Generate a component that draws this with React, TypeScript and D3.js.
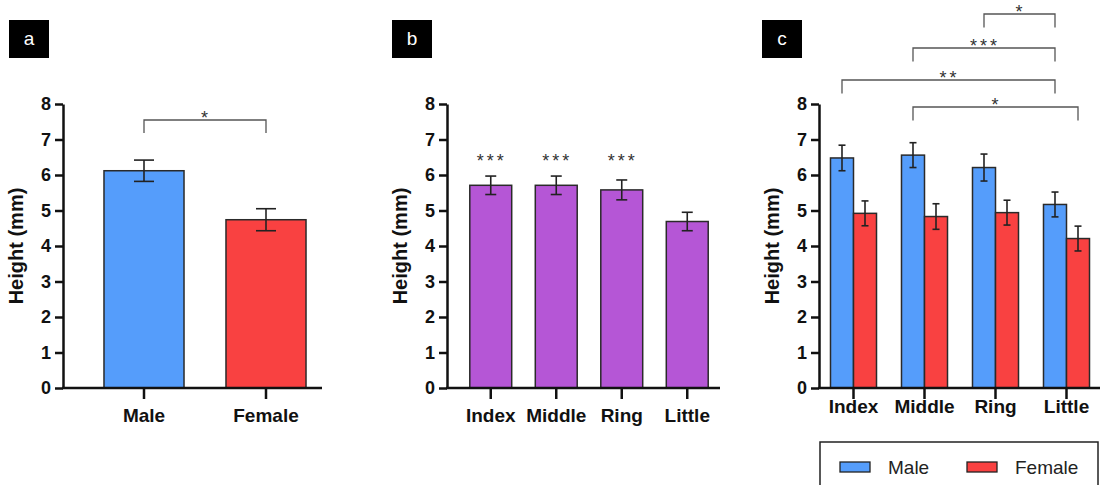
import React, { useRef, useEffect } from 'react';
import * as d3 from 'd3';

// panel a: sex
const sexCats = ['Male', 'Female'];
const sexMeans = [6.12, 4.74];
const sexErr = [0.3, 0.31];

// panel b: fingers
const fingerCats = ['Index', 'Middle', 'Ring', 'Little'];
const fingerMeans = [5.71, 5.71, 5.58, 4.69];
const fingerErr = [0.26, 0.26, 0.28, 0.26];
const fingerStars = ['***', '***', '***', ''];

// panel c: finger x sex
const groups = ['Male', 'Female'];
const maleMeans = [6.48, 6.56, 6.21, 5.17];
const maleErr = [0.36, 0.35, 0.38, 0.35];
const femaleMeans = [4.92, 4.83, 4.94, 4.21];
const femaleErr = [0.35, 0.36, 0.35, 0.35];
// brackets, bottom to top
const cBrackets = [
  { from: ['Middle', 'Male'], to: ['Little', 'Female'], label: '*' },
  { from: ['Index', 'Male'], to: ['Little', 'Male'], label: '**' },
  { from: ['Middle', 'Male'], to: ['Little', 'Male'], label: '***' },
  { from: ['Ring', 'Male'], to: ['Little', 'Male'], label: '*' },
];
const yTicks = [0, 1, 2, 3, 4, 5, 6, 7, 8];

const BLUE = '#559dfb';
const RED = '#f94141';
const PURPLE = '#b556d6';
const FONT = '"Liberation Sans", Arial, sans-serif';

export default function App() {
  const ref = useRef(null);

  useEffect(() => {
    const svg = d3.select(ref.current);
    svg.selectAll('*').remove();

    const y = d3.scaleLinear().domain([0, 8]).range([388, 104]);

    const drawYAxis = (x0, xEnd) => {
      const g = svg.append('g').attr('transform', `translate(${x0},0)`);
      g.call(d3.axisLeft(y).tickValues(yTicks).tickSize(8).tickSizeOuter(0).tickPadding(4));
      g.select('.domain').attr('stroke', '#111').attr('stroke-width', 2.5);
      g.selectAll('.tick line').attr('stroke', '#111').attr('stroke-width', 2.5);
      g.selectAll('.tick text')
        .attr('font-family', FONT).attr('font-size', 18).attr('font-weight', 'bold').attr('fill', '#111');
      svg.append('line')
        .attr('x1', x0 - 1).attr('x2', xEnd).attr('y1', y(0)).attr('y2', y(0))
        .attr('stroke', '#111').attr('stroke-width', 2.5);
      svg.append('text')
        .attr('transform', `translate(${x0 - 47},${(y(0) + y(8)) / 2}) rotate(-90)`)
        .attr('text-anchor', 'middle').attr('dy', '0.35em')
        .attr('font-family', FONT).attr('font-size', 20).attr('font-weight', 'bold').attr('fill', '#111')
        .text('Height (mm)');
    };

    const drawXTicks = (x, labelY) => {
      const g = svg.append('g').attr('transform', `translate(0,${y(0)})`);
      g.call(d3.axisBottom(x).tickSize(11).tickSizeOuter(0).tickPadding(0));
      g.select('.domain').remove();
      g.selectAll('.tick line').attr('stroke', '#111').attr('stroke-width', 2.5);
      g.selectAll('.tick text')
        .attr('y', labelY - y(0)).attr('dy', 0)
        .attr('font-family', FONT).attr('font-size', 19).attr('font-weight', 'bold').attr('fill', '#111');
    };

    const drawBar = (x, w, v, e, color, cap) => {
      svg.append('rect')
        .attr('x', x).attr('y', y(v)).attr('width', w).attr('height', y(0) - y(v))
        .attr('fill', color).attr('stroke', '#2a2a2a').attr('stroke-width', 1.5);
      const cx = x + w / 2;
      const eg = svg.append('g').attr('stroke', '#222').attr('stroke-width', 1.6).attr('fill', 'none');
      eg.append('line').attr('x1', cx).attr('x2', cx).attr('y1', y(v + e)).attr('y2', y(v - e));
      eg.append('line').attr('x1', cx - cap / 2).attr('x2', cx + cap / 2).attr('y1', y(v + e)).attr('y2', y(v + e));
      eg.append('line').attr('x1', cx - cap / 2).attr('x2', cx + cap / 2).attr('y1', y(v - e)).attr('y2', y(v - e));
    };

    const stars = (x, yy, label) =>
      svg.append('text')
        .attr('x', x + 1).attr('y', yy).attr('text-anchor', 'middle')
        .attr('font-family', FONT).attr('font-size', 18).attr('fill', '#333')
        .attr('letter-spacing', 3)
        .text(label);

    const bracket = (x1, x2, yy, drop, label) => {
      svg.append('path')
        .attr('d', `M${x1},${yy + drop}V${yy}H${x2}V${yy + drop}`)
        .attr('fill', 'none').attr('stroke', '#555').attr('stroke-width', 1.3);
      stars((x1 + x2) / 2, yy + 4, label);
    };

    const panelLabel = (x, t) => {
      svg.append('rect').attr('x', x).attr('y', 20).attr('width', 40).attr('height', 38).attr('fill', '#000');
      svg.append('text')
        .attr('x', x + 20).attr('y', 45).attr('text-anchor', 'middle')
        .attr('font-family', FONT).attr('font-size', 19).attr('fill', '#fff')
        .text(t);
    };

    // ---- panel a
    panelLabel(9, 'a');
    const xa = d3.scaleBand().domain(sexCats).range([83, 327]).paddingInner(0.344).paddingOuter(0.172);
    sexCats.forEach((c, i) => drawBar(xa(c), xa.bandwidth(), sexMeans[i], sexErr[i], i === 0 ? BLUE : RED, 20));
    drawYAxis(63, 322);
    drawXTicks(xa, 422);
    bracket(xa(sexCats[0]) + xa.bandwidth() / 2, xa(sexCats[1]) + xa.bandwidth() / 2, 120, 13, '*');

    // ---- panel b
    panelLabel(392, 'b');
    const xb = d3.scaleBand().domain(fingerCats).range([458, 720]).paddingInner(0.36).paddingOuter(0.18);
    fingerCats.forEach((c, i) => {
      drawBar(xb(c), xb.bandwidth(), fingerMeans[i], fingerErr[i], PURPLE, 11);
      if (fingerStars[i]) stars(xb(c) + xb.bandwidth() / 2, 167, fingerStars[i]);
    });
    drawYAxis(447, 720);
    drawXTicks(xb, 422);

    // ---- panel c
    panelLabel(762, 'c');
    const xc = d3.scaleBand().domain(fingerCats).range([818, 1102]).paddingInner(0.352).paddingOuter(0.176);
    const xs = d3.scaleBand().domain(groups).range([0, xc.bandwidth()]);
    const cMeans = { Male: maleMeans, Female: femaleMeans };
    const cErr = { Male: maleErr, Female: femaleErr };
    fingerCats.forEach((c, i) => {
      groups.forEach(gname => {
        drawBar(xc(c) + xs(gname), xs.bandwidth(), cMeans[gname][i], cErr[gname][i], gname === 'Male' ? BLUE : RED, 7);
      });
    });
    drawYAxis(819, 1100);
    drawXTicks(xc, 413);
    const cx = (k) => xc(k[0]) + xs(k[1]) + xs.bandwidth() / 2;
    const levels = [107, 80, 48, 14];
    cBrackets.forEach((b, i) => bracket(cx(b.from), cx(b.to), levels[i], 13.5, b.label));

    // legend
    svg.append('rect').attr('x', 820).attr('y', 442).attr('width', 278).attr('height', 60)
      .attr('fill', '#fff').attr('stroke', '#222').attr('stroke-width', 1.5);
    const lg = svg.append('g');
    groups.forEach((gname, i) => {
      const lx = 840 + i * 127;
      lg.append('rect').attr('x', lx).attr('y', 462).attr('width', 30).attr('height', 10)
        .attr('fill', gname === 'Male' ? BLUE : RED).attr('stroke', '#222').attr('stroke-width', 1.3);
      lg.append('text').attr('x', lx + 48).attr('y', 474)
        .attr('font-family', FONT).attr('font-size', 19).attr('fill', '#222')
        .text(gname);
    });
  }, []);

  return (
    <svg ref={ref} width={1101} height={485}
      style={{ position: 'absolute', left: 0, top: 0, background: '#fff' }} />
  );
}
